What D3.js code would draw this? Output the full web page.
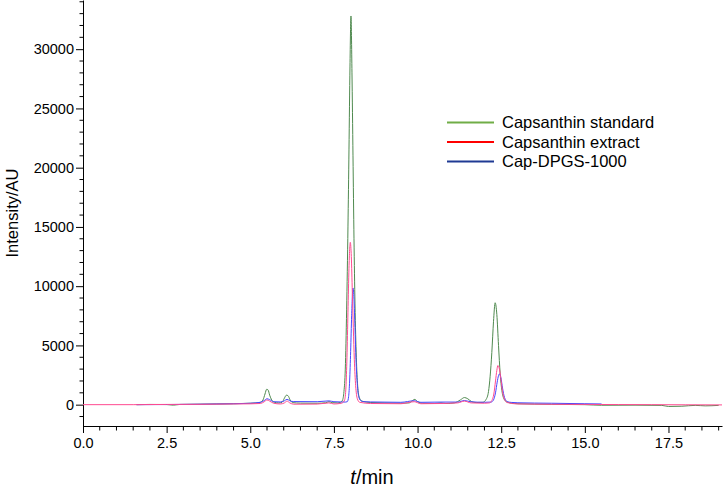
<!DOCTYPE html>
<html>
<head>
<meta charset="utf-8">
<script src="https://cdn.jsdelivr.net/npm/d3@7"></script>
<style>
  body { margin: 0; background: #fff; }
  #chart-container { width: 725px; height: 488px; }
  text { font-family: Arial, "Liberation Sans", sans-serif; fill: #000; }
</style>
</head>
<body>
<div id="chart-container"></div>
<script>
// Series names shown in the legend
const seriesNames = ['Capsanthin standard', 'Capsanthin extract', 'Cap-DPGS-1000'];

// [t (min), intensity (AU)]
const standardPoints = [
    [1.6, 0], [2.0, 20], [2.5, 10], [2.7, -40], [2.9, 20], [3.5, 40], [4.0, 60], [4.5, 80],
    [5.0, 120], [5.2, 150], [5.3, 200], [5.38, 400], [5.44, 900], [5.49, 1300], [5.53, 1250],
    [5.58, 800], [5.64, 400], [5.72, 200], [5.85, 150], [5.95, 200], [6.02, 550], [6.08, 800],
    [6.13, 750], [6.19, 400], [6.27, 170], [6.5, 130], [7.0, 120], [7.25, 160], [7.35, 250],
    [7.45, 170], [7.6, 150], [7.7, 200], [7.76, 400], [7.8, 1100], [7.84, 3000], [7.88, 8000],
    [7.92, 15000], [7.95, 21500], [7.98, 28500], [8.01, 32800], [8.04, 28000], [8.07, 21000],
    [8.1, 14000], [8.13, 8500], [8.17, 4000], [8.21, 1600], [8.26, 600], [8.33, 300], [8.6, 180],
    [9.0, 150], [9.5, 120], [9.75, 150], [9.85, 350], [9.92, 450], [10.0, 250], [10.15, 120],
    [10.5, 100], [10.7, 150], [10.85, 100], [11.1, 150], [11.28, 400], [11.4, 600], [11.5, 500],
    [11.62, 250], [11.75, 180], [11.95, 200], [12.05, 450], [12.12, 1100], [12.17, 2400],
    [12.22, 4400], [12.27, 7000], [12.32, 8600], [12.37, 7600], [12.42, 5000], [12.47, 2600],
    [12.52, 1200], [12.58, 500], [12.66, 250], [12.8, 130], [13.0, 80], [14.0, 30], [15.0, 0],
    [15.5, -50], [16.5, -40], [17.3, -60], [17.5, -150], [17.9, -130], [18.3, -60], [18.6, -100],
    [19.0, -60]
];

const extractPoints = [
    [0, 0], [1.5, 0], [2.5, 20], [3.5, 30], [4.5, 60], [5.0, 70], [5.3, 100], [5.42, 250],
    [5.5, 400], [5.58, 300], [5.7, 120], [5.9, 60], [6.02, 150], [6.1, 300], [6.18, 150],
    [6.3, 40], [7.0, 50], [7.35, 150], [7.5, 60], [7.68, 100], [7.75, 150], [7.82, 400],
    [7.86, 1500], [7.89, 4000], [7.92, 7800], [7.95, 11500], [7.99, 13700], [8.02, 12500],
    [8.05, 9500], [8.08, 6500], [8.11, 3800], [8.15, 1600], [8.2, 500], [8.27, 200], [8.6, 100],
    [9.5, 80], [9.9, 250], [10.1, 80], [10.7, 100], [11.2, 150], [11.4, 300], [11.6, 150],
    [12.0, 120], [12.15, 150], [12.22, 350], [12.28, 900], [12.33, 2000], [12.37, 2900],
    [12.4, 3300], [12.44, 3100], [12.49, 2200], [12.54, 1100], [12.6, 450], [12.68, 180],
    [13.0, 60], [14.0, 30], [15.0, 20], [16.0, 10], [17.0, 0], [18.0, -10], [19.1, -20]
];

const capDpgsPoints = [
    [1.6, 0], [2.5, 10], [3.5, 40], [4.5, 80], [5.0, 120], [5.3, 200], [5.42, 350], [5.5, 500],
    [5.58, 420], [5.7, 250], [5.9, 230], [6.02, 330], [6.1, 450], [6.18, 330], [6.3, 260],
    [7.0, 250], [7.35, 320], [7.5, 250], [7.7, 230], [7.85, 220], [7.9, 250], [7.94, 700],
    [7.97, 2000], [8.0, 4500], [8.03, 7500], [8.07, 9850], [8.1, 8900], [8.13, 6500],
    [8.16, 3800], [8.2, 1700], [8.24, 700], [8.3, 350], [8.4, 250], [8.6, 230], [9.5, 200],
    [9.9, 330], [10.1, 200], [10.7, 220], [11.2, 220], [11.4, 350], [11.6, 240], [12.0, 200],
    [12.2, 220], [12.27, 400], [12.33, 1000], [12.38, 1900], [12.42, 2450], [12.45, 2600],
    [12.49, 2300], [12.54, 1400], [12.6, 600], [12.68, 260], [12.8, 190], [13.0, 160],
    [14.0, 120], [15.0, 80], [15.5, 60]
];

// Axis ticks
const xMajorTicks = [0, 2.5, 5, 7.5, 10, 12.5, 15, 17.5];
const yMajorTicks = [0, 5000, 10000, 15000, 20000, 25000, 30000];

const config = {
    width: 725,
    height: 488,
    left: 83,
    right: 722,
    top: 0,
    bottom: 426,
    xDomain: [0, 19.1],
    yDomain: [-1800, 34150]
};

const svg = d3.select('#chart-container')
    .append('svg')
    .attr('width', config.width)
    .attr('height', config.height);

const x = d3.scaleLinear().domain(config.xDomain).range([config.left, config.right]);
const y = d3.scaleLinear().domain(config.yDomain).range([config.bottom, config.top]);

// minor ticks every 0.5 min / 1000 AU
const xMinor = d3.range(0, 19.01, 0.5).filter(v => Math.abs(v / 2.5 - Math.round(v / 2.5)) > 1e-6);
const yMinor = d3.range(-1000, 34001, 1000).filter(v => v % 5000 !== 0);

// x axis
const xAxis = svg.append('g')
    .attr('transform', `translate(0,${config.bottom})`)
    .call(d3.axisBottom(x).tickValues(xMajorTicks).tickFormat(d3.format('.1f'))
        .tickSize(7).tickSizeOuter(0).tickPadding(5));
xAxis.append('g').selectAll('line')
    .data(xMinor).enter().append('line')
    .attr('x1', d => x(d)).attr('x2', d => x(d))
    .attr('y1', 0).attr('y2', 4.5)
    .attr('stroke', '#000');

// y axis
const yAxis = svg.append('g')
    .attr('transform', `translate(${config.left},0)`)
    .call(d3.axisLeft(y).tickValues(yMajorTicks).tickFormat(d3.format('d'))
        .tickSize(7).tickSizeOuter(0).tickPadding(2));
yAxis.append('g').selectAll('line')
    .data(yMinor).enter().append('line')
    .attr('y1', d => y(d)).attr('y2', d => y(d))
    .attr('x1', 0).attr('x2', -3.5)
    .attr('stroke', '#000');

svg.selectAll('.tick text').attr('font-size', 14.5).attr('font-family', 'Arial, "Liberation Sans", sans-serif');
svg.selectAll('.domain, .tick line').attr('stroke', '#000');

// axis titles
svg.append('text')
    .attr('transform', `translate(18,213) rotate(-90)`)
    .attr('text-anchor', 'middle')
    .attr('font-size', 16.5)
    .text('Intensity/AU');

const xTitle = svg.append('text')
    .attr('x', 372)
    .attr('y', 484)
    .attr('text-anchor', 'middle')
    .attr('font-size', 20);
xTitle.append('tspan').attr('font-style', 'italic').text('t');
xTitle.append('tspan').text('/min');

// traces
const line = d3.line()
    .x(d => x(d[0]))
    .y(d => y(d[1]))
    .curve(d3.curveMonotoneX);

const traces = [
    { name: seriesNames[0], points: standardPoints, color: '#4f8a4f' },
    { name: seriesNames[2], points: capDpgsPoints, color: '#4646ff' },
    { name: seriesNames[1], points: extractPoints, color: '#ff4a90' }
];

svg.append('g').selectAll('path')
    .data(traces).enter().append('path')
    .attr('d', d => line(d.points))
    .attr('fill', 'none')
    .attr('stroke', d => d.color)
    .attr('stroke-width', 1);

// legend
const legendColors = ['#70ad47', '#ff0000', '#1f3a93'];
const legend = svg.append('g').attr('transform', 'translate(447,122.5)');
const items = legend.selectAll('g')
    .data(seriesNames).enter().append('g')
    .attr('transform', (d, i) => `translate(0,${i * 19.5})`);
items.append('line')
    .attr('x1', 0).attr('x2', 47)
    .attr('stroke', (d, i) => legendColors[i])
    .attr('stroke-width', 2);
items.append('text')
    .attr('x', 55)
    .attr('dy', '0.35em')
    .attr('font-size', 16.5)
    .text(d => d);
</script>
</body>
</html>
